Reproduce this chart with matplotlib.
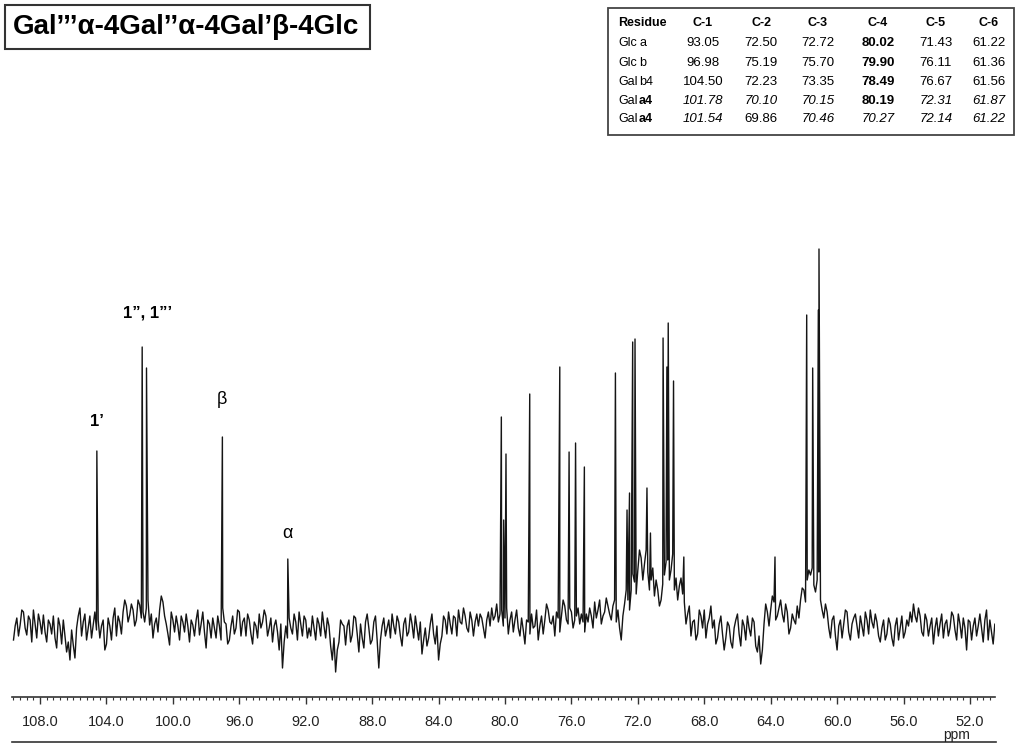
import numpy as np
import matplotlib
matplotlib.use('Agg')
import matplotlib.pyplot as plt
from matplotlib.patches import Rectangle
from matplotlib.lines import Line2D
from matplotlib.ticker import MultipleLocator, FormatStrFormatter

plt.rcParams['font.family'] = ['Liberation Sans', 'DejaVu Sans']

W, H = 1024, 754

# baseline noise, read every 0.2 ppm from 109.6 down to 50.4
baseline = [
    -10, 12, 5, 18, -5, 10, 20, -8, 8, 15,
    -12, 6, 14, -18, 4, 10, -22, -30, -15, 2,
    22, 8, -10, 14, 5, 0, -8, 10, -14, 4,
    12, -6, 8, 18, 24, 15, 20, 10, 25, 18,
    22, 5, -8, 12, 20, 28, 6, -15, 10, 14,
    -10, 8, 16, -12, 5, 10, -5, 18, -18, 6,
    12, -8, 4, 22, 6, -10, 14, 2, 18, 8,
    -6, 10, -14, 4, 16, 8, 14, 2, -12, 10,
    -20, -38, 4, 12, -4, 8, 18, -6, 10, 2,
    14, -10, 6, 18, -8, 4, -30, -42, -12, 6,
    -15, 10, -5, 12, -22, -8, 8, 2, -10, 14,
    -38, 4, -6, 10, 16, -4, 8, -16, 12, -2,
    6, 14, -10, -24, 2, -8, 16, -14, -30, -6,
    10, 18, -4, 12, 20, 6, 14, -2, 10, 8,
    4, 12, -8, 18, 22, 14, 8, 20, 12, -4,
    18, 10, 2, 12, -14, 8, 16, 4, -10, 14,
    10, 20, 6, -6, 12, 14, 24, 6, 18, 10,
    22, 16, -2, 8, 14, 28, 20, 6, 18, 24,
    10, 30, 20, -10, 26, 30, 40, 48, 60, 72,
    66, 58, 50, 34, 40, 30, 55, 70, 60, 40,
    30, 52, 28, 16, -6, 10, -4, 14, 20, 6,
    24, 10, -8, 14, -20, 8, -12, 2, 16, -16,
    4, 14, -6, 8, -22, -34, 6, 18, 20, 28,
    14, 30, 8, 18, 2, 10, 24, 30, 40, 50,
    55, 45, 50, 30, 12, 18, -8, 14, -20, 10,
    6, 18, -10, 12, 4, 14, -6, 10, 20, 2,
    8, -12, 10, -4, 6, -16, 12, 2, -8, 10,
    18, 26, 8, 14, -6, 10, 4, -14, 12, 6,
    -8, 10, 2, 14, -10, 6, 12, -20, 8, 4,
    -6, 16, -12, 20, 10, -14, -8,
]
baseline_ppm = np.linspace(109.6, 50.4, len(baseline))

# in-between noise points, 109.5 down to 50.5
baseline_mid = [
    4, -6, 20, 2, 14, -12, 6, 16, -4, -2,
    10, -4, -8, 12, -14, -6, -12, 0, -28, 14,
    -6, 16, 2, -8, 18, 10, 4, -20, 12, -10,
    22, 14, -4, 30, 8, 26, 4, 30, 12, 8,
    30, 16, 6, -2, 34, 14, -4, 18, -2, 4,
    14, -2, 4, 10, -6, 20, 6, -2, 10, -8,
    2, 14, -10, 8, -14, 4, -4, 20, -6, 12,
    16, -4, 8, -8, 2, 20, -6, 12, 4, -2,
    6, -12, -8, 2, 16, -10, 6, 14, -8, -6,
    2, 12, -6, 4, 12, -16, -8, -20, 10, 4,
    4, -12, 14, -4, 6, -18, 16, -14, 8, -10,
    -10, 12, 2, -8, 4, 14, -6, 6, -6, 16,
    -8, 2, 8, -10, -16, 6, -4, 4, -14, 14,
    -4, 6, 14, -6, 8, 22, 2, 18, -6, 16,
    16, 2, 10, 4, 10, 26, 16, 4, 22, 10,
    -2, 20, -6, 0, 10, -4, 2, 20, 4, -4,
    26, 8, 14, 18, -2, 30, 10, 22, 2, 14,
    6, 8, 16, 22, 2, 12, 30, 14, 32, 16,
    24, 8, 2, 14, 40, 20, 56, 36, 80, 50,
    80, 40, 62, 50, 24, 46, 68, 50, 76, 52,
    44, 36, 6, 24, 8, -10, 20, 2, -8, 12,
    2, -14, 6, -4, -8, 4, -18, 10, -4, 10,
    -10, 2, 12, -16, -6, -20, 26, 4, 34, 10,
    22, 16, 26, -4, 16, 6, 12, 42, 28, 60,
    62, 38, 58, 20, 26, 2, 10, -6, 4, -8,
    20, -2, 6, 16, -8, 4, 18, -4, 8, 16,
    -6, 2, -10, 12, -8, 4, -10, 14, -2, 4,
    8, 14, 22, -2, 16, -6, 12, 2, -6, 16,
    6, -6, 18, 0, 16, -8, 2, 10, -10, 12,
    4, 2, 10, -10, -2, 6,
]
baseline_mid_ppm = np.linspace(109.5, 50.5, len(baseline_mid))

# resolved signals: position (ppm) and height
peak_ppm = [104.58, 101.85, 101.59, 97.02, 93.08,
            80.22, 80.08, 79.94, 78.51, 76.70, 76.14, 75.75, 75.22,
            73.35, 72.65, 72.50, 72.31, 72.17, 71.45, 71.24,
            70.48, 70.25, 70.17, 69.85, 69.23,
            63.74, 61.83, 61.47, 61.13, 61.09]
peak_height = [179, 283, 262, 193, 71,
               213, 110, 176, 236, 263, 178, 187, 163,
               257, 120, 137, 288, 291, 142, 97,
               292, 263, 307, 249, 73,
               73, 315, 262, 320, 381]

# labels over the anomeric signals
label_text = ['1\u2019', '1\u201d, 1\u201d\u2019', '\u03b2', '\u03b1']
label_ppm = [104.58, 101.5, 97.02, 93.08]
label_y = [208, 317, 230, 97]

# table of shifts
columns = ['C-1', 'C-2', 'C-3', 'C-4', 'C-5', 'C-6']
residue_sugar = ['Glc', 'Glc', 'Gal', 'Gal', 'Gal']
residue_tag = ['a', 'b', 'b4', 'a4', 'a4']
tag_bold = [False, False, False, True, True]
shifts = [
    [93.05, 72.50, 72.72, 80.02, 71.43, 61.22],
    [96.98, 75.19, 75.70, 79.90, 76.11, 61.36],
    [104.50, 72.23, 73.35, 78.49, 76.67, 61.56],
    [101.78, 70.10, 70.15, 80.19, 72.31, 61.87],
    [101.54, 69.86, 70.46, 70.27, 72.14, 61.22],
]
bold_cells = [[0, 0, 0, 1, 0, 0], [0, 0, 0, 1, 0, 0], [0, 0, 0, 1, 0, 0],
              [0, 0, 0, 1, 0, 0], [0, 0, 0, 0, 0, 0]]
italic_cells = [[0, 0, 0, 0, 0, 0], [0, 0, 0, 0, 0, 0], [0, 0, 0, 0, 0, 0],
                [1, 1, 1, 0, 1, 1], [1, 0, 1, 1, 1, 1]]


def fx(x):
    return x / W


def fy(y):
    return 1 - y / H


# merge noise and peaks into one trace
xs = np.concatenate([baseline_ppm, baseline_mid_ppm, peak_ppm])
ys = np.concatenate([baseline, baseline_mid, peak_height])
order = np.argsort(-xs)
xs, ys = xs[order], ys[order]

fig = plt.figure(figsize=(W / 100, H / 100), dpi=100)
fig.patch.set_facecolor('white')

ax = fig.add_axes([fx(12), fy(697), fx(983), 457 / H])
ax.plot(xs, ys, color='#151515', lw=1.0)
ax.set_xlim(109.69, 50.49)
ax.set_ylim(-67, 390)
for s in ['left', 'right', 'top']:
    ax.spines[s].set_visible(False)
ax.spines['bottom'].set_linewidth(1.2)
ax.spines['bottom'].set_color('#333333')
ax.set_yticks([])
ax.xaxis.set_major_locator(MultipleLocator(4))
ax.xaxis.set_minor_locator(MultipleLocator(0.4))
ax.xaxis.set_major_formatter(FormatStrFormatter('%.1f'))
ax.tick_params(axis='x', which='major', direction='out', length=5, width=1,
               color='#333333', pad=8, labelsize=10.5, labelcolor='#222222')
ax.tick_params(axis='x', which='minor', direction='out', length=2.5, width=0.8,
               color='#333333')

for t, p, yv in zip(label_text, label_ppm, label_y):
    greek = t in ('\u03b1', '\u03b2')
    ax.text(p, yv, t, ha='center', va='center', fontsize=13 if greek else 12,
            fontweight='normal' if greek else 'bold', clip_on=False)

# bottom rule and unit
fig.add_artist(Line2D([fx(12), fx(996)], [fy(742), fy(742)], color='#333333', lw=1.2))
fig.text(fx(957), fy(735), 'ppm', ha='center', va='center', fontsize=10, color='#222222')

# title box
fig.add_artist(Rectangle((fx(5), fy(49)), fx(365), 44 / H, fill=False,
                         edgecolor='#333333', lw=1.5))
fig.text(fx(186), fy(27), 'Gal\u2019\u2019\u2019\u03b1-4Gal\u2019\u2019\u03b1-4Gal\u2019\u03b2-4Glc',
         ha='center', va='center', fontsize=20, fontweight='bold')

# shift table
fig.add_artist(Rectangle((fx(608), fy(135)), fx(406), 127 / H, fill=False,
                         edgecolor='#444444', lw=1.3))
col_x = [703, 761, 818, 878, 936, 989]
row_y = [43, 63, 82, 101, 119]
fs = 9.5
fig.text(fx(618), fy(23), 'Residue', ha='left', va='center', fontsize=9, fontweight='bold')
for cx, c in zip(col_x, columns):
    fig.text(fx(cx), fy(23), c, ha='center', va='center', fontsize=9, fontweight='bold')
for i, ry in enumerate(row_y):
    fig.text(fx(618), fy(ry), residue_sugar[i], ha='left', va='center', fontsize=9)
    fig.text(fx(639), fy(ry), residue_tag[i], ha='left', va='center', fontsize=9,
             fontweight='bold' if tag_bold[i] else 'normal')
    for j, cx in enumerate(col_x):
        fig.text(fx(cx), fy(ry), '%.2f' % shifts[i][j], ha='center', va='center', fontsize=fs,
                 fontweight='bold' if bold_cells[i][j] else 'normal',
                 style='italic' if italic_cells[i][j] else 'normal')

fig.savefig('out.png', dpi=100, facecolor='white')
